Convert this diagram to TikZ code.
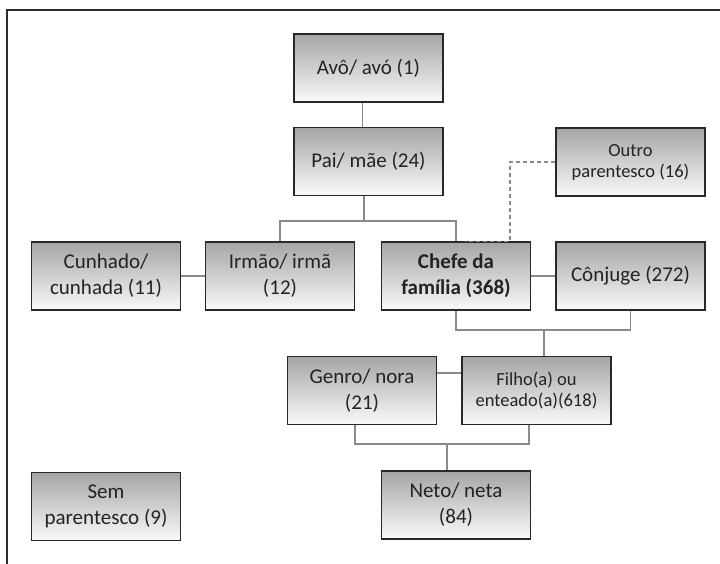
\documentclass[tikz,border=0pt]{standalone}
\usepackage{fontspec}
\setmainfont{Carlito}
\usetikzlibrary{calc}
\definecolor{boxtop}{RGB}{165,165,165}
\definecolor{boxbot}{RGB}{250,250,250}
\definecolor{boxline}{RGB}{40,40,40}
\definecolor{conn}{RGB}{138,138,138}
\definecolor{txt}{RGB}{35,35,35}
\definecolor{framecol}{RGB}{45,45,45}
\begin{document}
\begin{tikzpicture}[x=1pt,y=-1pt,
  fambox/.style={draw=boxline, line width=1.6pt, top color=boxtop, bottom color=boxbot,
    minimum width=149pt, minimum height=68pt, inner sep=0pt, align=center, text=txt,
    font=\fontsize{21}{26}\selectfont},
  smallbox/.style={fambox, font=\fontsize{18.5}{21}\selectfont},
  boldbox/.style={fambox, font=\fontsize{21}{26}\selectfont\bfseries},
  link/.style={draw=conn, line width=1.2pt},
  dlink/.style={draw=conn, line width=1.2pt, dash pattern=on 4pt off 3pt}]
\useasboundingbox (0,0) rectangle (720,564);
\draw[line width=1.5pt, color=framecol] (7,564) -- (7,10) -- (720,10);

\node[fambox]  (avo)     at (368.5,68)    {Avô/ avó (1)};
\node[fambox]  (pai)     at (368.5,161.5) {Pai/ mãe (24)};
\node[smallbox](outro)   at (630.5,162)   {Outro\\parentesco (16)};
\node[fambox]  (cunhado) at (106,276)     {Cunhado/\\cunhada (11)};
\node[fambox]  (irmao)   at (280,276)     {Irmão/ irmã\\(12)};
\node[boldbox] (chefe)   at (456,276)     {Chefe da\\família (368)};
\node[fambox]  (conjuge) at (630.5,276)   {Cônjuge (272)};
\node[fambox]  (genro)   at (362,390.5)   {Genro/ nora\\(21)};
\node[smallbox](filho)   at (536.5,390.5) {Filho(a) ou\\enteado(a)(618)};
\node[fambox]  (neto)    at (456,505)     {Neto/ neta\\(84)};
\node[fambox]  (sem)     at (106,506.5)   {Sem\\parentesco (9)};

\coordinate (jb) at (364,221);
\coordinate (jc) at (544,330);
\coordinate (jg) at (447,444);
\coordinate (jf) at (0,373);
\coordinate (jd) at (510,162);
\coordinate (je) at (465,0);

\draw[link] ([xshift=-6pt]avo.south) -- ([xshift=-6pt]pai.north);
\draw[link] (pai.south -| jb) -- (jb);
\draw[link] (irmao.north) |- (jb) -| (chefe.north);
\draw[link] (cunhado) -- (irmao);
\draw[link] (chefe) -- (conjuge);
\draw[link] (chefe.south) |- (jc) -| (conjuge.south);
\draw[link] (jc) -- (jc |- filho.north);
\draw[link] (genro.east |- jf) -- (filho.west |- jf);
\draw[link] ([xshift=-7pt]genro.south) |- (jg) -| ([xshift=-7.5pt]filho.south);
\draw[link] (jg) -- (jg |- neto.north);
\draw[dlink] (outro.west) -- (jd) -- (jd |- chefe.north) -- (chefe.north -| je);
\end{tikzpicture}
\end{document}
